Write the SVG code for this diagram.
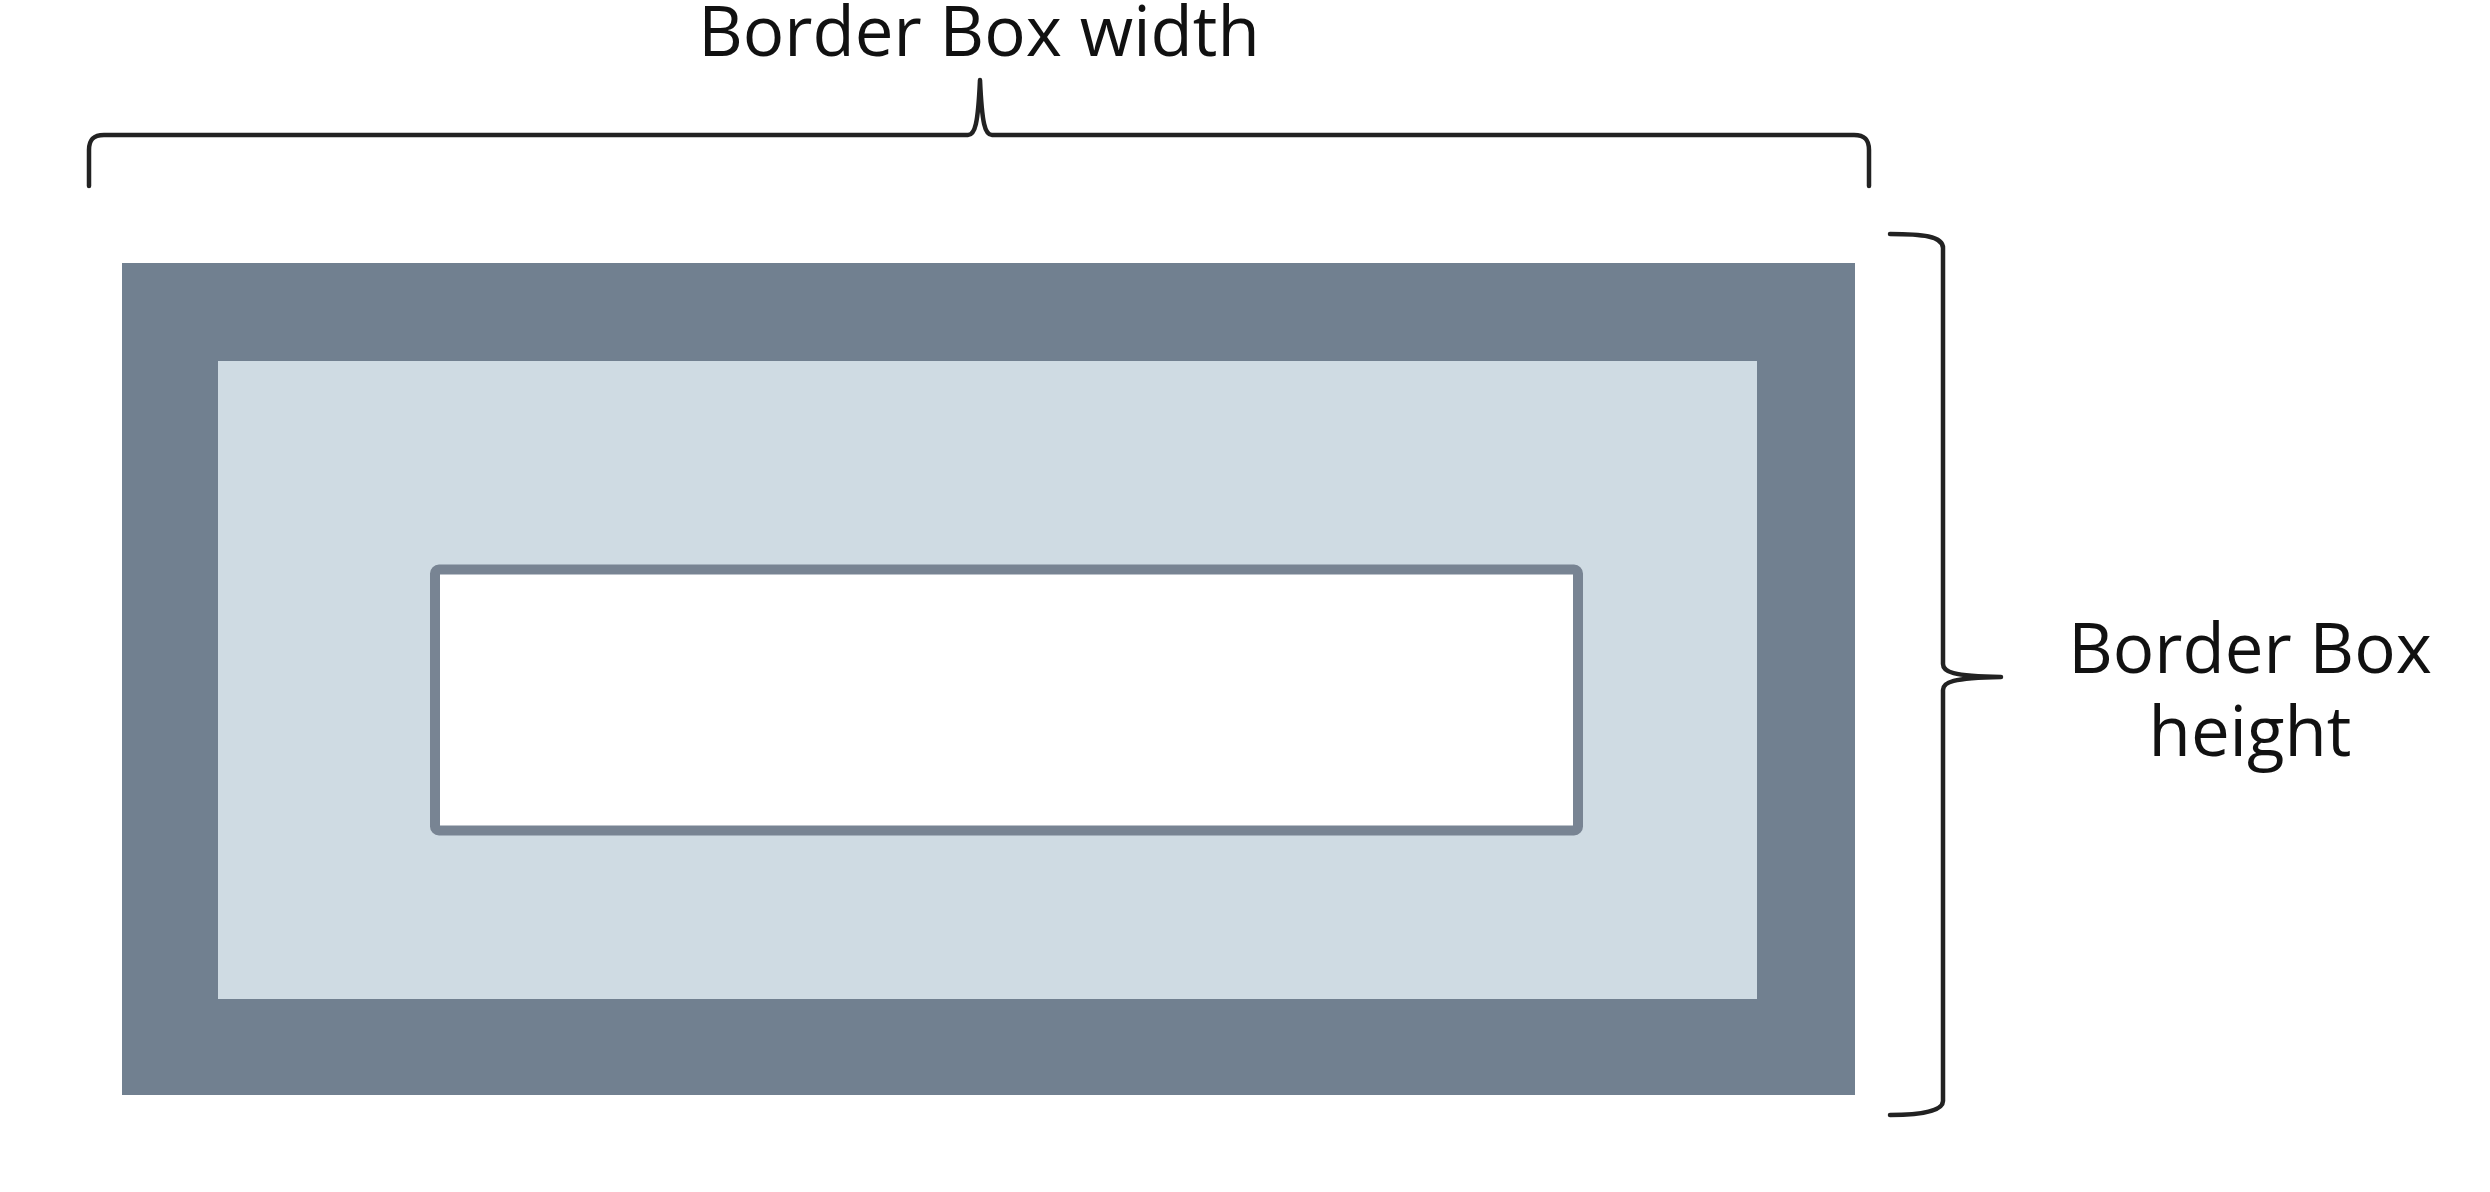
<svg xmlns="http://www.w3.org/2000/svg" width="2490" height="1192" viewBox="0 0 2490 1192">
<style>
.lbl{font-family:"Open Sans","Liberation Sans",sans-serif;font-size:69px;font-weight:500;fill:#111;text-anchor:middle}
.brace{fill:none;stroke:#222;stroke-width:4.5;stroke-linecap:round;stroke-linejoin:round}
</style>
<rect width="2490" height="1192" fill="#ffffff"/>
<g id="border-box">
<rect x="122" y="263" width="1733" height="832" fill="#718090"/>
</g>
<g id="padding-box">
<rect x="218" y="361" width="1539" height="638" fill="#cfdbe3"/>
</g>
<g id="content-box">
<rect x="435" y="569.5" width="1143" height="261" rx="4" fill="#ffffff" stroke="#788493" stroke-width="10"/>
</g>
<g id="connectors">
<path class="brace" d="M89,186 L89,150 C89,140 93,135 104,135 L968,135 C975,135 978,124 980,80 C982,124 985,135 992,135 L1854,135 C1865,135 1869,140 1869,150 L1869,186"/>
<path class="brace" d="M1890,234 C1922,234 1943,236 1943,248 L1943,664 C1943,672 1952,676 2001,677 C1952,678 1943,682 1943,690 L1943,1101 C1943,1111 1922,1115 1890,1115"/>
</g>
<g id="width-label">
<text class="lbl" x="979" y="56">Border Box width</text>
</g>
<g id="height-label">
<text class="lbl" x="2250" y="673">Border Box</text>
<text class="lbl" x="2250" y="756">height</text>
</g>
</svg>
